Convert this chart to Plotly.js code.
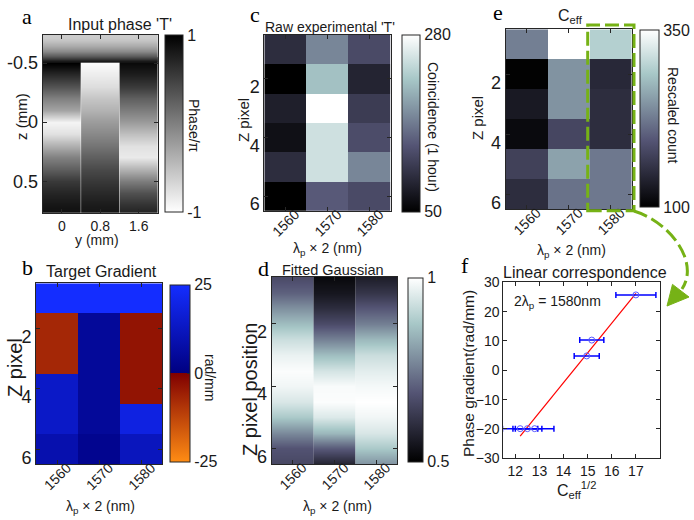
<!DOCTYPE html>
<html><head><meta charset="utf-8">
<script src="https://cdn.plot.ly/plotly-3.0.1.min.js"></script>
<style>html,body{margin:0;padding:0;background:#fff}#chart{width:694px;height:520px}</style>
</head><body><div id="chart"></div>
<script>
// ================= DATA =================
const wavelengths = [1560, 1570, 1580];
const zPixels = [1, 2, 3, 4, 5, 6];

// Panel a: input phase (phase/pi) along z (mm), three y-columns
const phaseColumnsY = [0, 0.8, 1.6];
const phaseTopEdgesZ = [-0.74, -0.70, -0.66, -0.62, -0.58, -0.54, -0.50];
const phaseTop = [-0.6, -0.5, -0.33, -0.08, 0.3, 0.8];
const phaseZ = [-0.5, -0.4, -0.3, -0.2, -0.1, 0, 0.1, 0.2, 0.3, 0.4, 0.5, 0.6, 0.7, 0.8];
const phaseCol1 = [1, 0.66, 0.33, 0, -0.29, -0.92, -0.76, -0.37, -0.02, 0.25, 0.55, 0.71, 0.83, 0.9];
const phaseCol2 = [-0.96, -0.85, -0.73, -0.55, -0.4, -0.22, -0.07, 0.09, 0.25, 0.42, 0.56, 0.68, 0.79, 0.86];
const phaseCol3 = [0.92, 0.75, 0.53, 0.25, 0.02, -0.22, -0.51, -0.77, -0.84, -0.41, 0.02, 0.37, 0.61, 0.8];

// Panel c: raw coincidences (1 hour), rows = Z pixel 1..6, cols = wavelengths
const rawCounts = [
  [96, 174, 126],
  [50, 218, 87],
  [82, 280, 112],
  [66, 248, 128],
  [96, 248, 174],
  [50, 140, 126]
];

// Panel e: C_eff rescaled count
const ceffCounts = [
  [229, 350, 297],
  [102, 245, 145],
  [128, 245, 150],
  [111, 178, 150],
  [172, 257, 223],
  [150, 218, 223]
];

// Panel b: target gradient (rad/mm)
const targetGradient = [
  [25, 25, 25],
  [-7, 5, -3.5],
  [-7, 5, -3.5],
  [14, 5, -3.5],
  [14, 5, 19],
  [9, 3, 12]
];

// Panel d: fitted Gaussian (normalised), sampled along Z pixel position
const gaussZ = [0.5, 1.0, 1.5, 2.0, 2.5, 3.0, 3.5, 4.0, 4.5, 5.0, 5.5, 6.0, 6.5];
const gaussCol1 = [0.665, 0.71, 0.785, 0.86, 0.925, 0.97, 0.995, 0.98, 0.945, 0.88, 0.775, 0.685, 0.66];
const gaussCol2 = [0.52, 0.55, 0.60, 0.67, 0.76, 0.86, 0.94, 0.99, 0.995, 0.95, 0.85, 0.70, 0.58];
const gaussCol3 = [0.565, 0.62, 0.69, 0.76, 0.85, 0.925, 0.96, 0.985, 1.0, 0.98, 0.945, 0.88, 0.79];

// Panel f: linear correspondence (2 lambda_p = 1580 nm)
const sqrtCeff = [17.0, 15.17, 14.96, 12.2, 12.5, 12.8];
const phaseGradient = [25.7, 10.3, 4.9, -19.9, -19.9, -19.9];
const sqrtCeffErr = [0.83, 0.5, 0.52, 0.73, 0.6, 0.8];
const fitLineX = [12.2, 17.0];
const fitLineY = [-22.4, 26.2];

// ================= LAYOUT HELPERS =================
const W = 694, H = 520;
const FONT = 'Liberation Sans, Arial, sans-serif';
const SERIF = 'Liberation Serif, Times New Roman, serif';
const AX = '#262626';
const TXT = '#1a1a1a';
const GREEN = 'rgb(118,178,22)';
const fx = v => v / W;
const fy = v => 1 - v / H;
const xdom = (a, b) => [fx(a), fx(b)];
const ydom = (top, bottom) => [fy(bottom), fy(top)];

const grayScale = [[0, '#ffffff'], [1, '#000000']];
const boneScale = [[0, 'rgb(0,0,0)'], [0.375, 'rgb(84,84,116)'], [0.75, 'rgb(167,199,199)'], [1, 'rgb(255,255,255)']];
const gradScale = [[0, 'rgb(255,140,20)'], [0.5, 'rgb(128,0,0)'], [0.5, 'rgb(0,0,128)'], [1, 'rgb(20,45,255)']];

function cbar(left, top, bottom, thick, tickvals, ticktext) {
  return {
    x: fx(left), xanchor: 'left', xpad: 0, ypad: 0,
    y: fy((top + bottom) / 2), yanchor: 'middle',
    len: bottom - top, lenmode: 'pixels', thickness: thick,
    outlinewidth: 1, outlinecolor: AX,
    tickvals: tickvals, ticktext: ticktext,
    ticks: 'inside', ticklen: 3, tickcolor: AX,
    tickfont: {family: FONT, size: 16, color: TXT}
  };
}

function columnTrace(xc, halfW, yVals, vals, xa, ya, cs, zmin, zmax, colorbar) {
  const t = {
    type: 'heatmap', xaxis: xa, yaxis: ya,
    x: [xc - halfW, xc, xc + halfW], y: yVals,
    z: vals.map(v => [v, v]), zsmooth: 'best',
    colorscale: cs, zmin: zmin, zmax: zmax,
    showscale: !!colorbar, hoverinfo: 'skip'
  };
  if (colorbar) t.colorbar = colorbar;
  return t;
}

// ================= TRACES =================
const traces = [];
// a
const phaseCols = [phaseCol1, phaseCol2, phaseCol3];
phaseCols.forEach((col, i) => traces.push(columnTrace(phaseColumnsY[i], 0.4, phaseZ, col, 'x', 'y', grayScale, -1, 1)));
traces.push({
  type: 'heatmap', xaxis: 'x', yaxis: 'y',
  x: [phaseColumnsY[0] - 0.4, phaseColumnsY[1], phaseColumnsY[2] + 0.4],
  y: phaseTopEdgesZ, z: phaseTop.map(v => [v, v]), zsmooth: 'best',
  colorscale: grayScale, zmin: -1, zmax: 1, hoverinfo: 'skip',
  showscale: true, colorbar: cbar(165, 35, 212, 18, [-1, 1], ['-1', '1'])
});
// c
traces.push({
  type: 'heatmap', xaxis: 'x2', yaxis: 'y2', x: wavelengths, y: zPixels, z: rawCounts,
  colorscale: boneScale, zmin: 50, zmax: 280, hoverinfo: 'skip',
  colorbar: cbar(401.7, 35, 211.7, 18, [50, 280], ['50', '280'])
});
// e
traces.push({
  type: 'heatmap', xaxis: 'x3', yaxis: 'y3', x: wavelengths, y: zPixels, z: ceffCounts,
  colorscale: boneScale, zmin: 100, zmax: 350, hoverinfo: 'skip',
  colorbar: cbar(640, 30.7, 207.3, 19, [100, 350], ['100', '350'])
});
// b
traces.push({
  type: 'heatmap', xaxis: 'x4', yaxis: 'y4', x: wavelengths, y: zPixels, z: targetGradient,
  colorscale: gradScale, zmin: -25, zmax: 25, hoverinfo: 'skip',
  colorbar: cbar(170, 285, 461.7, 20, [-25, 0, 25], ['-25', '0', '25'])
});
// d
const gaussCols = [gaussCol1, gaussCol2, gaussCol3];
gaussCols.forEach((col, i) => traces.push(columnTrace(wavelengths[i], 5, gaussZ, col, 'x5', 'y5', boneScale, 0.5, 1,
  i === 0 ? cbar(408.3, 277.7, 461.7, 14.5, [0.5, 1], ['0.5', '1']) : null)));
// f
traces.push({
  type: 'scatter', mode: 'lines', xaxis: 'x6', yaxis: 'y6', x: fitLineX, y: fitLineY,
  line: {color: 'rgb(255,0,0)', width: 1.2}, hoverinfo: 'skip'
});
traces.push({
  type: 'scatter', mode: 'markers', xaxis: 'x6', yaxis: 'y6', x: sqrtCeff, y: phaseGradient,
  marker: {symbol: 'circle-open', size: 6, color: 'rgb(90,90,255)', line: {width: 1}},
  error_x: {type: 'data', array: sqrtCeffErr, color: 'rgb(0,0,255)', thickness: 1.5, width: 3},
  hoverinfo: 'skip'
});

// ================= AXES =================
function ax(extra) {
  return Object.assign({
    showline: true, mirror: 'ticks', linecolor: AX, linewidth: 1,
    ticks: 'inside', ticklen: 4, tickcolor: AX, tickwidth: 1,
    showgrid: false, zeroline: false, fixedrange: true,
    tickfont: {family: FONT, size: 14, color: TXT}
  }, extra);
}
const wlX = (anchor, dom) => ax({anchor: anchor, domain: dom, range: [1555, 1585], tickvals: wavelengths,
  ticktext: wavelengths.map(String), tickangle: -45, ticklabelshift: 10, ticklabelstandoff: -11});
const pixY = (anchor, dom, size) => ax({anchor: anchor, domain: dom, range: [6.5, 0.5], tickvals: [2, 4, 6],
  tickfont: {family: FONT, size: size, color: TXT}, ticklabelshift: -8});

const layout = {
  width: W, height: H, margin: {l: 0, r: 0, t: 0, b: 0, autoexpand: false},
  paper_bgcolor: '#fff', plot_bgcolor: '#fff', showlegend: false,
  font: {family: FONT, color: TXT},
  xaxis: ax({anchor: 'y', domain: xdom(42.7, 158), range: [-0.4, 2.0], tickvals: phaseColumnsY, ticktext: ['0', '0.8', '1.6']}),
  yaxis: ax({anchor: 'x', domain: ydom(34.7, 212.7), range: [0.766, -0.74], tickvals: [-0.5, 0, 0.5], ticktext: ['-0.5', '0', '0.5'],
    tickfont: {family: FONT, size: 18, color: TXT}}),
  xaxis2: wlX('y2', xdom(264.3, 390.7)),
  yaxis2: pixY('x2', ydom(35, 210.7), 18),
  xaxis3: wlX('y3', xdom(505.7, 631.7)),
  yaxis3: pixY('x3', ydom(29.3, 209.3), 18),
  xaxis4: wlX('y4', xdom(36, 162.3)),
  yaxis4: pixY('x4', ydom(283.3, 464.3), 18),
  xaxis5: wlX('y5', xdom(271.7, 397.3)),
  yaxis5: pixY('x5', ydom(277, 464), 18),
  xaxis6: ax({anchor: 'y6', domain: xdom(503.3, 660), range: [11.5, 18], tickvals: [12, 13, 14, 15, 16, 17]}),
  yaxis6: ax({anchor: 'x6', domain: ydom(282.3, 458.3), range: [-30, 30], tickvals: [-30, -20, -10, 0, 10, 20, 30]}),
  annotations: [],
  shapes: []
};

function ann(text, x, y, size, opts) {
  layout.annotations.push(Object.assign({
    text: text, x: fx(x), y: fy(y), xref: 'paper', yref: 'paper',
    xanchor: 'center', yanchor: 'middle', showarrow: false,
    font: {family: FONT, size: size, color: TXT}
  }, opts || {}));
}
// panel letters
[['a', 27, 17], ['c', 255, 14], ['e', 498, 12], ['b', 27, 267], ['d', 263, 268], ['f', 465, 265]]
  .forEach(l => ann(l[0], l[1], l[2], 22, {font: {family: SERIF, size: 22, color: '#000'}}));
// panel titles
ann("Input phase 'T'", 120, 24, 16);
ann("Raw experimental 'T'", 330, 27, 14);
ann('C<sub>eff</sub>', 570, 16, 16);
ann('Target Gradient', 101.7, 271.7, 16);
ann('Fitted Gaussian', 333, 270, 14.5);
ann('Linear correspondence', 585, 272.7, 16);
// x titles
const lamTitle = '\u03bb<sub>p</sub> \u00d7 2 (nm)';
ann('y (mm)', 97, 240, 14);
ann(lamTitle, 327, 249, 14);
ann(lamTitle, 571.7, 251, 14);
ann(lamTitle, 100, 507, 14);
ann(lamTitle, 337.7, 507, 14);
ann('C<sub>eff</sub><sup>1/2</sup>', 576, 490, 16);
// y titles
ann('z (mm)', 22, 117, 15, {textangle: -90});
ann('Z pixel', 243, 120, 15, {textangle: -90});
ann('Z pixel', 478, 118, 15, {textangle: -90});
ann('Z pixel', 15, 368, 20, {textangle: -90});
ann('Z pixel position', 250, 390, 20, {textangle: -90});
ann('Phase gradient(rad/mm)', 468, 373, 15.5, {textangle: -90});
// colorbar titles
ann('Phase/\u03c0', 194, 126, 14, {textangle: 90});
ann('Coincidence (1 hour)', 433, 127, 14, {textangle: 90});
ann('Rescaled count', 673, 115, 14, {textangle: 90});
ann('rad/mm', 210, 378, 14, {textangle: 90});
// f inset label
ann('2\u03bb<sub>p</sub> = 1580nm', 511.7, 302, 14, {xanchor: 'left'});

// highlight box and arrow (decoration, paper coords)
const P = (x, y) => fx(x).toFixed(4) + ',' + fy(y).toFixed(4);
layout.shapes.push({type: 'rect', xref: 'paper', yref: 'paper', x0: fx(587.7), x1: fx(634), y0: fy(210.7), y1: fy(25),
  line: {color: GREEN, width: 3, dash: '14px,5px'}});
layout.shapes.push({type: 'path', xref: 'paper', yref: 'paper',
  path: 'M' + P(634, 211) + ' C' + P(670, 222) + ' ' + P(700, 262) + ' ' + P(682, 289),
  line: {color: GREEN, width: 3, dash: '14px,5px'}});
layout.shapes.push({type: 'path', xref: 'paper', yref: 'paper',
  path: 'M' + P(667, 306) + ' L' + P(672.5, 284.4) + ' L' + P(689, 297) + ' Z',
  fillcolor: GREEN, line: {color: GREEN, width: 1}});

Plotly.newPlot('chart', traces, layout, {staticPlot: true, displayModeBar: false});
</script>
</body></html>
